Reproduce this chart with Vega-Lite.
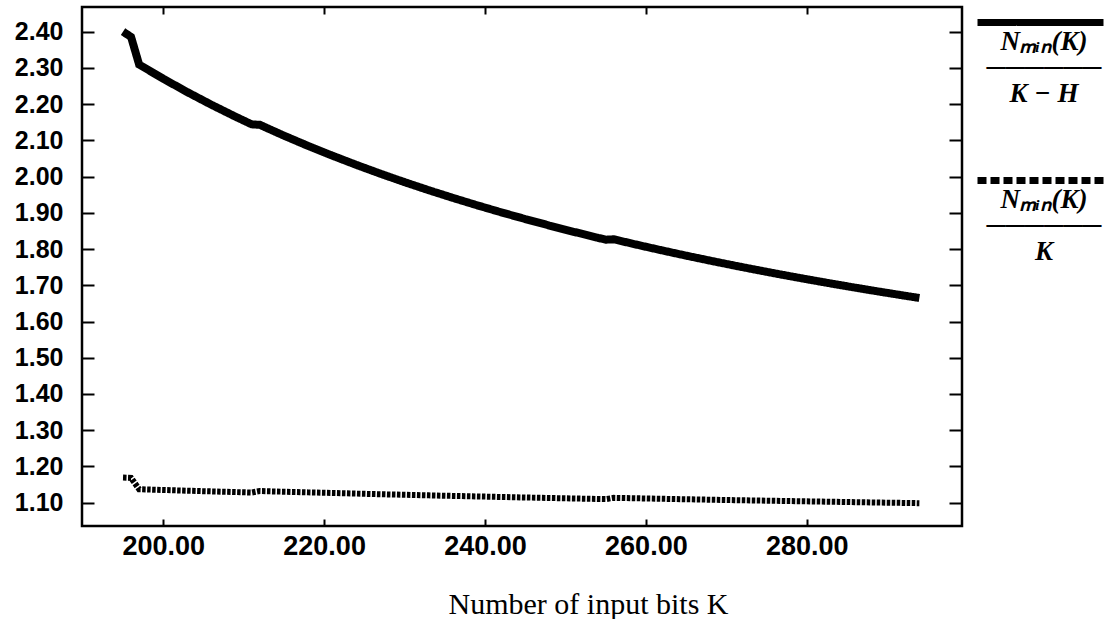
{
  "$schema": "https://vega.github.io/schema/vega-lite/v6.json",
  "width": 880,
  "height": 519,
  "autosize": {"type": "none"},
  "padding": {"left": 82, "top": 7, "right": 145, "bottom": 93},
  "background": "white",
  "config": {
    "view": {"stroke": "black", "strokeWidth": 2.5},
    "axis": {"grid": false, "domain": false, "tickColor": "black", "tickWidth": 2, "labelColor": "black"}
  },
  "data": {
    "values": [
      {"K": 195, "a": 2.4000, "b": 1.1692},
      {"K": 196, "a": 2.3854, "b": 1.1684},
      {"K": 197, "a": 2.3093, "b": 1.1371},
      {"K": 200, "a": 2.2700, "b": 1.1350},
      {"K": 203, "a": 2.2330, "b": 1.1330},
      {"K": 206, "a": 2.1981, "b": 1.1311},
      {"K": 209, "a": 2.1651, "b": 1.1292},
      {"K": 211, "a": 2.1441, "b": 1.1280},
      {"K": 212, "a": 2.1429, "b": 1.1321},
      {"K": 215, "a": 2.1130, "b": 1.1302},
      {"K": 218, "a": 2.0847, "b": 1.1284},
      {"K": 221, "a": 2.0579, "b": 1.1267},
      {"K": 224, "a": 2.0323, "b": 1.1250},
      {"K": 227, "a": 2.0079, "b": 1.1233},
      {"K": 230, "a": 1.9846, "b": 1.1217},
      {"K": 233, "a": 1.9624, "b": 1.1202},
      {"K": 236, "a": 1.9412, "b": 1.1186},
      {"K": 239, "a": 1.9209, "b": 1.1172},
      {"K": 242, "a": 1.9014, "b": 1.1157},
      {"K": 245, "a": 1.8828, "b": 1.1143},
      {"K": 248, "a": 1.8649, "b": 1.1129},
      {"K": 251, "a": 1.8477, "b": 1.1116},
      {"K": 254, "a": 1.8312, "b": 1.1102},
      {"K": 255, "a": 1.8258, "b": 1.1098},
      {"K": 256, "a": 1.8269, "b": 1.1133},
      {"K": 259, "a": 1.8113, "b": 1.1120},
      {"K": 262, "a": 1.7963, "b": 1.1107},
      {"K": 265, "a": 1.7818, "b": 1.1094},
      {"K": 268, "a": 1.7679, "b": 1.1082},
      {"K": 271, "a": 1.7544, "b": 1.1070},
      {"K": 274, "a": 1.7414, "b": 1.1058},
      {"K": 277, "a": 1.7288, "b": 1.1047},
      {"K": 280, "a": 1.7167, "b": 1.1036},
      {"K": 283, "a": 1.7049, "b": 1.1025},
      {"K": 286, "a": 1.6935, "b": 1.1014},
      {"K": 289, "a": 1.6825, "b": 1.1003},
      {"K": 292, "a": 1.6719, "b": 1.0993},
      {"K": 294, "a": 1.6649, "b": 1.0986}
    ]
  },
  "transform": [{"fold": ["a", "b"], "as": ["series", "v"]}],
  "layer": [
    {
      "mark": {"type": "line", "color": "black", "strokeCap": "butt"},
      "encoding": {
        "x": {
          "field": "K", "type": "quantitative",
          "scale": {"domain": [189.9, 299.3], "nice": false, "zero": false},
          "axis": {
            "orient": "bottom", "values": [200, 220, 240, 260, 280], "format": ".2f",
            "labelFont": "Liberation Sans", "labelFontWeight": "bold", "labelFontSize": 27,
            "tickSize": -7, "labelPadding": 14,
            "title": "Number of input bits K", "titleFont": "Liberation Serif", "titleFontSize": 30,
            "titleFontWeight": "normal", "titleColor": "black", "titleX": 506, "titleY": 87,
            "titleAlign": "center", "titleBaseline": "alphabetic"
          }
        },
        "y": {
          "field": "v", "type": "quantitative",
          "scale": {"domain": [1.0356, 2.468], "nice": false, "zero": false},
          "axis": {
            "orient": "left", "values": [1.1, 1.2, 1.3, 1.4, 1.5, 1.6, 1.7, 1.8, 1.9, 2.0, 2.1, 2.2, 2.3, 2.4],
            "format": ".2f", "labelFont": "Liberation Sans", "labelFontWeight": "bold", "labelFontSize": 25,
            "tickSize": -12, "labelPadding": 31, "title": null
          }
        },
        "strokeDash": {
          "field": "series", "type": "nominal",
          "scale": {"domain": ["a", "b"], "range": [[1, 0], [3.5, 1.5]]},
          "legend": null
        },
        "strokeWidth": {
          "field": "series", "type": "ordinal",
          "scale": {"domain": ["a", "b"], "range": [8, 6]}, "legend": null
        }
      }
    },
    {
      "mark": {"type": "point", "opacity": 0},
      "encoding": {
        "x": {
          "field": "K", "type": "quantitative",
          "axis": {"orient": "top", "values": [200, 220, 240, 260, 280], "labels": false, "tickSize": -7, "title": null}
        },
        "y": {
          "field": "v", "type": "quantitative",
          "axis": {"orient": "right", "values": [1.1, 1.2, 1.3, 1.4, 1.5, 1.6, 1.7, 1.8, 1.9, 2.0, 2.1, 2.2, 2.3, 2.4], "labels": false, "tickSize": -13, "title": null}
        }
      }
    },
    {
      "transform": [{"filter": "false"}],
      "mark": {"type": "line", "color": "black", "strokeWidth": 7, "strokeCap": "butt"},
      "encoding": {
        "x": {"field": "K", "type": "quantitative", "axis": null},
        "y": {"field": "v", "type": "quantitative", "axis": null},
        "strokeDash": {
          "field": "series", "type": "nominal",
          "scale": {"domain": ["a", "b"], "range": [[1, 0], [9, 4]]},
          "legend": {
            "orient": "none", "legendX": 945, "legendY": 2, "title": null, "padding": 0,
            "symbolType": "M-9,0H9", "symbolSize": 196, "symbolStrokeColor": "black",
            "symbolStrokeWidth": 7, "symbolFillColor": "transparent", "symbolOpacity": 1,
            "labelExpr": "datum.value == 'a' ? ['Nₘᵢₙ(K)', '──────', 'K − H'] : ['Nₘᵢₙ(K)', '──────', 'K']",
            "labelFont": "Liberation Serif", "labelFontSize": 27, "labelFontStyle": "italic",
            "labelFontWeight": "bold", "labelColor": "black", "labelAlign": "center",
            "labelBaseline": "alphabetic", "labelOffset": -10, "labelLimit": 0, "rowPadding": 59,
            "encode": {
              "labels": {"update": {"dy": {"value": 27}, "lineHeight": {"value": 26}}}
            }
          }
        }
      }
    }
  ],
  "resolve": {
    "axis": {"x": "independent", "y": "independent"},
    "scale": {"strokeDash": "independent"},
    "legend": {"strokeDash": "independent"}
  }
}
